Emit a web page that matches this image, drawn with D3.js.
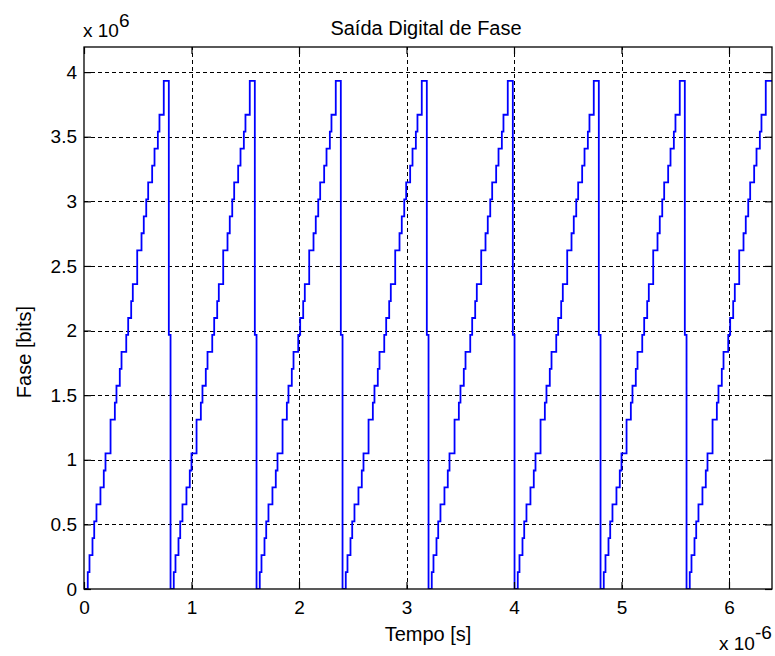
<!DOCTYPE html>
<html>
<head>
<meta charset="utf-8">
<script src="https://cdn.jsdelivr.net/npm/d3@7"></script>
<style>
  body { margin: 0; background: #fff; }
  text { font-family: "Liberation Sans", Arial, sans-serif; fill: #000; }
</style>
</head>
<body>
<script>
var width = 775, height = 656;
var margin = {left: 84, right: 3, top: 47, bottom: 67};

// time in microseconds (axis shows x 10^-6), phase in millions of bits (axis shows x 10^6)
var cycleStarts = [0, 0.8, 1.6, 2.4, 3.2, 4.0, 4.8, 5.6];
// one ramp: time after the cycle start, and the held level
var stepTimes  = [0.035, 0.051, 0.079, 0.095, 0.116, 0.153, 0.184, 0.200, 0.247, 0.287,
                  0.302, 0.333, 0.349, 0.393, 0.411, 0.439, 0.454, 0.495, 0.535, 0.556,
                  0.579, 0.597, 0.634, 0.656, 0.687, 0.702, 0.742, 0.789, 0.805];
var stepLevels = [0.131, 0.262, 0.393, 0.524, 0.655, 0.786, 0.917, 1.049, 1.311, 1.442,
                  1.573, 1.704, 1.835, 1.966, 2.097, 2.228, 2.359, 2.621, 2.753, 2.884,
                  3.015, 3.146, 3.277, 3.408, 3.539, 3.670, 3.932, 1.966, 0];
var xTicks = [0, 1, 2, 3, 4, 5, 6];
var yTicks = [0, 0.5, 1, 1.5, 2, 2.5, 3, 3.5, 4];
var xMax = 6.4, yMax = 4.194304;
var recordEnd = 6.38;   // the record stops just before the last wrap

var svg = d3.select("body")
    .append("svg")
    .attr("width", width)
    .attr("height", height);

var x = d3.scaleLinear().domain([0, xMax]).range([margin.left, width - margin.right]);
var y = d3.scaleLinear().domain([0, yMax]).range([height - margin.bottom, margin.top]);

var pts = [[0, 0]];
cycleStarts.forEach(function(c) {
  stepTimes.forEach(function(t, i) {
    if (c + t < recordEnd) pts.push([c + t, stepLevels[i]]);
  });
});
pts.push([xMax, pts[pts.length - 1][1]]);

svg.append("clipPath").attr("id", "clip")
  .append("rect")
    .attr("x", x(0)).attr("y", y(yMax))
    .attr("width", x(xMax) - x(0)).attr("height", y(0) - y(yMax));

// grid
var grid = svg.append("g").attr("stroke", "#000").attr("stroke-width", 1).attr("stroke-dasharray", "4,3");
grid.selectAll(".gx").data(xTicks.slice(1)).enter().append("line")
    .attr("x1", function(d){ return Math.round(x(d)) + 0.5; }).attr("x2", function(d){ return Math.round(x(d)) + 0.5; })
    .attr("y1", y(0)).attr("y2", y(yMax));
grid.selectAll(".gy").data(yTicks.slice(1)).enter().append("line")
    .attr("y1", function(d){ return Math.round(y(d)) + 0.5; }).attr("y2", function(d){ return Math.round(y(d)) + 0.5; })
    .attr("x1", x(0)).attr("x2", x(xMax));

// the staircase
svg.append("path")
    .datum(pts)
    .attr("clip-path", "url(#clip)")
    .attr("fill", "none")
    .attr("stroke", "#0000ff")
    .attr("stroke-width", 1.8)
    .attr("d", d3.line()
        .x(function(d){ return x(d[0]); })
        .y(function(d){ return y(d[1]); })
        .curve(d3.curveStepAfter));

// axes, ticks pointing inward on all four sides
var tl = 7;
var fmt = function(d){ return d3.format("")(d); };
svg.append("g").attr("transform", "translate(0," + y(0) + ")")
    .call(d3.axisBottom(x).tickValues(xTicks).tickSizeInner(-tl).tickSizeOuter(0).tickPadding(12).tickFormat(fmt));
svg.append("g").attr("transform", "translate(0," + y(yMax) + ")")
    .call(d3.axisTop(x).tickValues(xTicks).tickSizeInner(-tl).tickSizeOuter(0).tickFormat(""));
svg.append("g").attr("transform", "translate(" + x(0) + ",0)")
    .call(d3.axisLeft(y).tickValues(yTicks).tickSizeInner(-tl).tickSizeOuter(0).tickPadding(7).tickFormat(fmt));
svg.append("g").attr("transform", "translate(" + x(xMax) + ",0)")
    .call(d3.axisRight(y).tickValues(yTicks).tickSizeInner(-tl).tickSizeOuter(0).tickFormat(""));

svg.selectAll(".domain").remove();
svg.selectAll(".tick line").attr("stroke", "#000").attr("stroke-width", 1.2);
svg.selectAll(".tick text").attr("font-size", 19).attr("fill", "#000")
    .style("font-family", "'Liberation Sans', Arial, sans-serif");

svg.append("rect")
    .attr("x", x(0)).attr("y", y(yMax))
    .attr("width", x(xMax) - x(0)).attr("height", y(0) - y(yMax))
    .attr("fill", "none").attr("stroke", "#000").attr("stroke-width", 1.3);

// titles and labels
svg.append("text").attr("x", 426).attr("y", 35).attr("text-anchor", "middle")
    .attr("font-size", 20).text("Saída Digital de Fase");
svg.append("text").attr("x", 428).attr("y", 641).attr("text-anchor", "middle")
    .attr("font-size", 20).text("Tempo [s]");
svg.append("text").attr("transform", "translate(31,352) rotate(-90)").attr("text-anchor", "middle")
    .attr("font-size", 20).text("Fase [bits]");

// exponent notes
var e1 = svg.append("text").attr("x", 83).attr("y", 37).attr("font-size", 19);
e1.append("tspan").text("x 10");
e1.append("tspan").attr("dy", -10).text("6");
var e2 = svg.append("text").attr("x", 719).attr("y", 650).attr("font-size", 19);
e2.append("tspan").text("x 10");
e2.append("tspan").attr("dy", -11).text("-6");
</script>
</body>
</html>
